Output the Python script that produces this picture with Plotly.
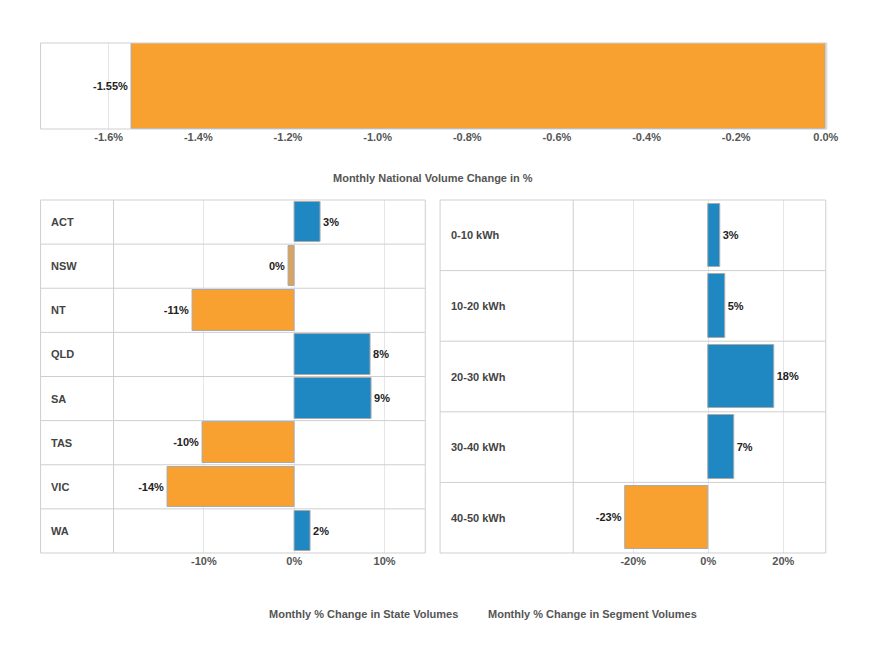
import plotly.graph_objects as go

W, H = 886, 651

national = [-1.55]
states = ["ACT", "NSW", "NT", "QLD", "SA", "TAS", "VIC", "WA"]
state_vals = [2.9, -0.6, -11.3, 8.4, 8.6, -10.2, -14.0, 1.8]
state_labels = ["3%", "0%", "-11%", "8%", "9%", "-10%", "-14%", "2%"]
segments = ["0-10 kWh", "10-20 kWh", "20-30 kWh", "30-40 kWh", "40-50 kWh"]
seg_vals = [3.2, 4.5, 17.6, 6.8, -22.1]
seg_labels = ["3%", "5%", "18%", "7%", "-23%"]

BLUE, ORANGE, TAN = "#1f87c2", "#f8a030", "#d9a45f"
FONT = "Liberation Sans"


def px(x):
    return x / W


def py(y):
    return 1 - y / H


def col(v, small=False):
    if small:
        return TAN
    return BLUE if v >= 0 else ORANGE


fig = go.Figure()

fig.add_trace(go.Bar(x=national, y=["n"], orientation="h", xaxis="x", yaxis="y",
                     marker=dict(color=ORANGE, line=dict(color="#aaa", width=1)),
                     width=1.0, text=["<b>-1.55%</b>"], textposition="outside",
                     cliponaxis=False))
fig.add_trace(go.Bar(x=state_vals, y=states, orientation="h", xaxis="x2", yaxis="y2",
                     marker=dict(color=[col(v, abs(v) < 1) for v in state_vals],
                                 line=dict(color="#aaa", width=1)),
                     width=0.92, text=["<b>%s</b>" % t for t in state_labels],
                     textposition="outside", cliponaxis=False))
fig.add_trace(go.Bar(x=seg_vals, y=segments, orientation="h", xaxis="x3", yaxis="y3",
                     marker=dict(color=[col(v) for v in seg_vals],
                                 line=dict(color="#aaa", width=1)),
                     width=0.9, text=["<b>%s</b>" % t for t in seg_labels],
                     textposition="outside", cliponaxis=False))

tick = dict(size=11, color="#555", family=FONT)
axcommon = dict(showgrid=True, gridcolor="#e6e6e6", zeroline=False, ticks="",
                tickfont=tick, showline=False, fixedrange=True)

fig.update_layout(
    width=W, height=H, margin=dict(l=0, r=0, t=0, b=0),
    plot_bgcolor="white", paper_bgcolor="white", showlegend=False,
    font=dict(family=FONT, size=11, color="#222"),
    bargap=0,
    xaxis=dict(domain=[px(33), px(830)], range=[-1.752, 0.002],
               tickvals=[-1.6, -1.4, -1.2, -1.0, -0.8, -0.6, -0.4, -0.2, 0.0],
               ticktext=["<b>%.1f%%</b>" % v for v in [-1.6, -1.4, -1.2, -1.0, -0.8, -0.6, -0.4, -0.2, 0.0]],
               anchor="y", **axcommon),
    yaxis=dict(domain=[py(121), py(35)], showticklabels=False, showgrid=False,
               zeroline=False, anchor="x", fixedrange=True),
    xaxis2=dict(domain=[px(107), px(423)], range=[-20, 14.5],
                tickvals=[-10, 0, 10], ticktext=["<b>-10%</b>", "<b>0%</b>", "<b>10%</b>"],
                anchor="y2", **axcommon),
    yaxis2=dict(domain=[py(545), py(192)], showticklabels=False, showgrid=False,
                zeroline=False, autorange="reversed", anchor="x2", fixedrange=True),
    xaxis3=dict(domain=[px(573), px(829)], range=[-36, 31.3],
                tickvals=[-20, 0, 20], ticktext=["<b>-20%</b>", "<b>0%</b>", "<b>20%</b>"],
                anchor="y3", **axcommon),
    yaxis3=dict(domain=[py(545), py(192)], showticklabels=False, showgrid=False,
                zeroline=False, autorange="reversed", anchor="x3", fixedrange=True),
)

line = dict(color="#cfcfcf", width=1)
shapes = [
    dict(type="rect", xref="paper", yref="paper", x0=px(33), x1=px(830), y0=py(121), y1=py(35), line=line),
    dict(type="rect", xref="paper", yref="paper", x0=px(33), x1=px(423), y0=py(545), y1=py(192), line=line),
    dict(type="line", xref="paper", yref="paper", x0=px(107), x1=px(107), y0=py(545), y1=py(192), line=line),
    dict(type="rect", xref="paper", yref="paper", x0=px(438), x1=px(829), y0=py(545), y1=py(192), line=line),
    dict(type="line", xref="paper", yref="paper", x0=px(573), x1=px(573), y0=py(545), y1=py(192), line=line),
]
for i in range(1, len(states)):
    shapes.append(dict(type="line", xref="paper", yref="y2", x0=px(33), x1=px(423),
                       y0=i - 0.5, y1=i - 0.5, line=line))
for i in range(1, len(segments)):
    shapes.append(dict(type="line", xref="paper", yref="y3", x0=px(438), x1=px(829),
                       y0=i - 0.5, y1=i - 0.5, line=line))
fig.update_layout(shapes=shapes)

lab = dict(size=11, color="#444", family=FONT)
ann = []
for s in states:
    ann.append(dict(xref="paper", yref="y2", x=px(42), y=s, text="<b>%s</b>" % s,
                    showarrow=False, xanchor="left", font=lab))
for s in segments:
    ann.append(dict(xref="paper", yref="y3", x=px(447), y=s, text="<b>%s</b>" % s,
                    showarrow=False, xanchor="left", font=lab))
titles = [("Monthly National Volume Change in %", 431, 162),
          ("Monthly % Change in State Volumes", 263, 614),
          ("Monthly % Change in Segment Volumes", 700, 614)]
for t, x, y in titles:
    ann.append(dict(xref="paper", yref="paper", x=px(x), y=py(y), text="<b>%s</b>" % t,
                    showarrow=False, font=dict(size=11, color="#555", family=FONT)))
fig.update_layout(annotations=ann)

fig.write_html("out.html")
